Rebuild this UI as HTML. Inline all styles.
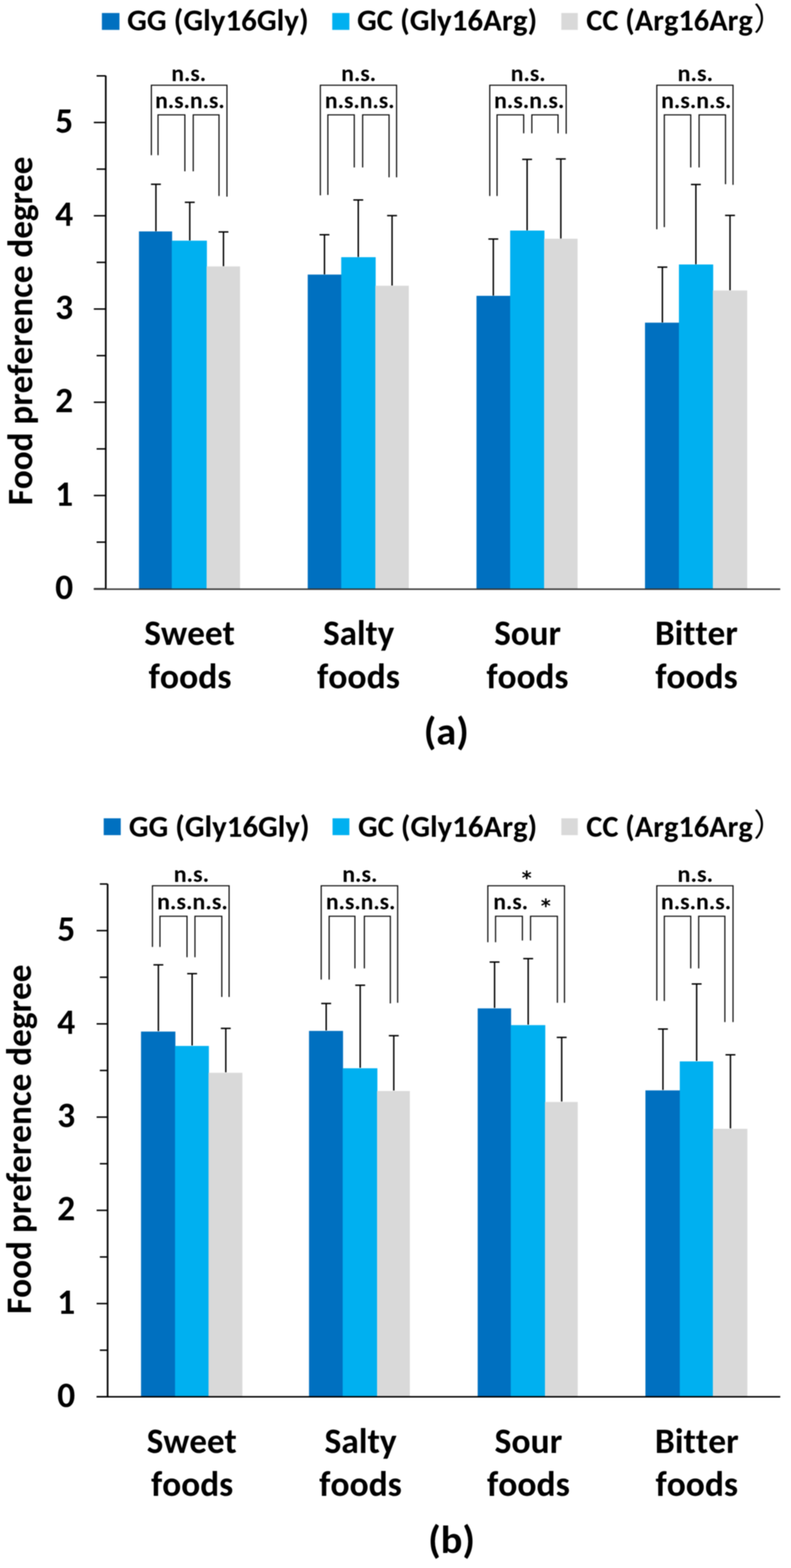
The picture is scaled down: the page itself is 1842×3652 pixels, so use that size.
<!DOCTYPE html>
<html><head><meta charset="utf-8"><title>Food preference degree</title>
<style>
html,body{margin:0;padding:0;background:#fff;}
body{width:1842px;height:3652px;}
svg{display:block;filter:blur(1px);}
text{font-family:Carlito, "Liberation Sans", Arial, sans-serif;fill:#000;font-variant-ligatures:none;font-feature-settings:"liga" 0,"clig" 0;font-kerning:none;font-size-adjust:0.4849;}
</style></head><body>
<svg width="1842" height="3652" viewBox="0 0 1842 3652">
<g>
<rect x="0" y="0" width="1842" height="3652" fill="#fff"/>
<rect x="237.3" y="30.3" width="40.90" height="39.30" fill="#0070C0"/>
<rect x="773.7" y="30.3" width="39.90" height="39.30" fill="#00B0F0"/>
<rect x="1307.2" y="30.3" width="38.30" height="39.30" fill="#D9D9D9"/>
<text x="296.10" y="71.30" font-size="70" font-weight="bold" textLength="422.61" lengthAdjust="spacingAndGlyphs">GG (Gly16Gly)</text>
<text x="831.40" y="71.30" font-size="70" font-weight="bold" textLength="419.60" lengthAdjust="spacingAndGlyphs">GC (Gly16Arg)</text>
<text x="1365.25" y="71.30" font-size="70" font-weight="bold" textLength="387.71" lengthAdjust="spacingAndGlyphs">CC (Arg16Arg</text>
<text x="1754.7" y="70.4" font-size="72.8" font-weight="normal" textLength="72.8" lengthAdjust="spacingAndGlyphs" style="font-family:'Noto Sans CJK JP','Noto Sans CJK SC',sans-serif;font-size-adjust:none">）</text>
<rect x="323.6" y="539.0" width="77.20" height="832.30" fill="#0070C0"/>
<rect x="400" y="560.5" width="81.80" height="810.80" fill="#00B0F0"/>
<rect x="481" y="620.5" width="78.00" height="750.80" fill="#D9D9D9"/>
<rect x="716.6" y="639.5" width="78.80" height="731.80" fill="#0070C0"/>
<rect x="794.6" y="599.0" width="80.20" height="772.30" fill="#00B0F0"/>
<rect x="874" y="665.5" width="78.00" height="705.80" fill="#D9D9D9"/>
<rect x="1109.6" y="689.0" width="79.20" height="682.30" fill="#0070C0"/>
<rect x="1188" y="537.0" width="79.80" height="834.30" fill="#00B0F0"/>
<rect x="1267" y="556.0" width="78.00" height="815.30" fill="#D9D9D9"/>
<rect x="1502" y="751.5" width="79.80" height="619.80" fill="#0070C0"/>
<rect x="1581" y="616.0" width="79.80" height="755.30" fill="#00B0F0"/>
<rect x="1660" y="676.5" width="80.00" height="694.80" fill="#D9D9D9"/>
<line x1="363.1" y1="429.2" x2="363.1" y2="538.5" stroke="#000" stroke-width="3.3" stroke-linecap="butt"/>
<line x1="351.6" y1="429.2" x2="374.6" y2="429.2" stroke="#000" stroke-width="3.3" stroke-linecap="butt"/>
<line x1="441.9" y1="471.2" x2="441.9" y2="560" stroke="#000" stroke-width="3.3" stroke-linecap="butt"/>
<line x1="430.4" y1="471.2" x2="453.4" y2="471.2" stroke="#000" stroke-width="3.3" stroke-linecap="butt"/>
<line x1="520.4" y1="540.2" x2="520.4" y2="620" stroke="#000" stroke-width="3.3" stroke-linecap="butt"/>
<line x1="508.9" y1="540.2" x2="531.9" y2="540.2" stroke="#000" stroke-width="3.3" stroke-linecap="butt"/>
<line x1="755.6" y1="546.7" x2="755.6" y2="639" stroke="#000" stroke-width="3.3" stroke-linecap="butt"/>
<line x1="744.1" y1="546.7" x2="767.1" y2="546.7" stroke="#000" stroke-width="3.3" stroke-linecap="butt"/>
<line x1="834.3" y1="465.7" x2="834.3" y2="598.5" stroke="#000" stroke-width="3.3" stroke-linecap="butt"/>
<line x1="822.8" y1="465.7" x2="845.8" y2="465.7" stroke="#000" stroke-width="3.3" stroke-linecap="butt"/>
<line x1="913.0" y1="502.2" x2="913.0" y2="665" stroke="#000" stroke-width="3.3" stroke-linecap="butt"/>
<line x1="901.5" y1="502.2" x2="924.5" y2="502.2" stroke="#000" stroke-width="3.3" stroke-linecap="butt"/>
<line x1="1148.8" y1="556.7" x2="1148.8" y2="688.5" stroke="#000" stroke-width="3.3" stroke-linecap="butt"/>
<line x1="1137.3" y1="556.7" x2="1160.3" y2="556.7" stroke="#000" stroke-width="3.3" stroke-linecap="butt"/>
<line x1="1227.5" y1="371.2" x2="1227.5" y2="536.5" stroke="#000" stroke-width="3.3" stroke-linecap="butt"/>
<line x1="1216.0" y1="371.2" x2="1239.0" y2="371.2" stroke="#000" stroke-width="3.3" stroke-linecap="butt"/>
<line x1="1306.0" y1="370.2" x2="1306.0" y2="555.5" stroke="#000" stroke-width="3.3" stroke-linecap="butt"/>
<line x1="1294.5" y1="370.2" x2="1317.5" y2="370.2" stroke="#000" stroke-width="3.3" stroke-linecap="butt"/>
<line x1="1542.5" y1="622.2" x2="1542.5" y2="751" stroke="#000" stroke-width="3.3" stroke-linecap="butt"/>
<line x1="1531.0" y1="622.2" x2="1554.0" y2="622.2" stroke="#000" stroke-width="3.3" stroke-linecap="butt"/>
<line x1="1620.5" y1="429.7" x2="1620.5" y2="615.5" stroke="#000" stroke-width="3.3" stroke-linecap="butt"/>
<line x1="1609.0" y1="429.7" x2="1632.0" y2="429.7" stroke="#000" stroke-width="3.3" stroke-linecap="butt"/>
<line x1="1700.0" y1="501.7" x2="1700.0" y2="676" stroke="#000" stroke-width="3.3" stroke-linecap="butt"/>
<line x1="1688.5" y1="501.7" x2="1711.5" y2="501.7" stroke="#000" stroke-width="3.3" stroke-linecap="butt"/>
<polyline points="352.5,361.5 352.5,198.5 528.5,198.5 528.5,458.0" fill="none" stroke="#0a0a0a" stroke-width="2.7" stroke-linejoin="miter"/>
<polyline points="368,361.5 368,267.5 430.5,267.5 430.5,399.0" fill="none" stroke="#0a0a0a" stroke-width="2.7" stroke-linejoin="miter"/>
<polyline points="450,399.0 450,267.5 510,267.5 510,456.5" fill="none" stroke="#0a0a0a" stroke-width="2.7" stroke-linejoin="miter"/>
<polyline points="746,455.0 746,198.5 923.5,198.5 923.5,413.0" fill="none" stroke="#0a0a0a" stroke-width="2.7" stroke-linejoin="miter"/>
<polyline points="763.5,454.0 763.5,267.5 825,267.5 825,390.0" fill="none" stroke="#0a0a0a" stroke-width="2.7" stroke-linejoin="miter"/>
<polyline points="844.5,390.0 844.5,267.5 906,267.5 906,413.0" fill="none" stroke="#0a0a0a" stroke-width="2.7" stroke-linejoin="miter"/>
<polyline points="1140.5,456.5 1140.5,198.5 1318.5,198.5 1318.5,311.5" fill="none" stroke="#0a0a0a" stroke-width="2.7" stroke-linejoin="miter"/>
<polyline points="1157.5,456.5 1157.5,267.5 1219.5,267.5 1219.5,310.5" fill="none" stroke="#0a0a0a" stroke-width="2.7" stroke-linejoin="miter"/>
<polyline points="1238.5,310.5 1238.5,267.5 1299.5,267.5 1299.5,310.5" fill="none" stroke="#0a0a0a" stroke-width="2.7" stroke-linejoin="miter"/>
<polyline points="1529.5,534.0 1529.5,198.5 1707,198.5 1707,430.5" fill="none" stroke="#0a0a0a" stroke-width="2.7" stroke-linejoin="miter"/>
<polyline points="1547,529.0 1547,267.5 1608.5,267.5 1608.5,390.0" fill="none" stroke="#0a0a0a" stroke-width="2.7" stroke-linejoin="miter"/>
<polyline points="1628,390.0 1628,267.5 1689.5,267.5 1689.5,429.0" fill="none" stroke="#0a0a0a" stroke-width="2.7" stroke-linejoin="miter"/>
<line x1="246.3" y1="176.3" x2="246.3" y2="1372.8" stroke="#000" stroke-width="3.9" stroke-linecap="butt"/>
<line x1="218.5" y1="1371.3" x2="246.3" y2="1371.3" stroke="#000" stroke-width="3.4" stroke-linecap="butt"/>
<line x1="225" y1="1262.7" x2="246.3" y2="1262.7" stroke="#000" stroke-width="3.4" stroke-linecap="butt"/>
<line x1="218.5" y1="1154.1" x2="246.3" y2="1154.1" stroke="#000" stroke-width="3.4" stroke-linecap="butt"/>
<line x1="225" y1="1045.5" x2="246.3" y2="1045.5" stroke="#000" stroke-width="3.4" stroke-linecap="butt"/>
<line x1="218.5" y1="936.9" x2="246.3" y2="936.9" stroke="#000" stroke-width="3.4" stroke-linecap="butt"/>
<line x1="225" y1="828.3" x2="246.3" y2="828.3" stroke="#000" stroke-width="3.4" stroke-linecap="butt"/>
<line x1="218.5" y1="719.7" x2="246.3" y2="719.7" stroke="#000" stroke-width="3.4" stroke-linecap="butt"/>
<line x1="225" y1="611.1" x2="246.3" y2="611.1" stroke="#000" stroke-width="3.4" stroke-linecap="butt"/>
<line x1="218.5" y1="502.5" x2="246.3" y2="502.5" stroke="#000" stroke-width="3.4" stroke-linecap="butt"/>
<line x1="225" y1="393.9" x2="246.3" y2="393.9" stroke="#000" stroke-width="3.4" stroke-linecap="butt"/>
<line x1="218.5" y1="285.3" x2="246.3" y2="285.3" stroke="#000" stroke-width="3.4" stroke-linecap="butt"/>
<line x1="225" y1="176.7" x2="246.3" y2="176.7" stroke="#000" stroke-width="3.4" stroke-linecap="butt"/>
<line x1="218.5" y1="1372.2" x2="1817" y2="1372.2" stroke="#383838" stroke-width="3.6" stroke-linecap="butt"/>
<text x="128.59" y="1394.80" font-size="82.5" font-weight="bold" textLength="41.81" lengthAdjust="spacingAndGlyphs">0</text>
<text x="128.59" y="1177.60" font-size="82.5" font-weight="bold" textLength="41.81" lengthAdjust="spacingAndGlyphs">1</text>
<text x="128.59" y="960.40" font-size="82.5" font-weight="bold" textLength="41.81" lengthAdjust="spacingAndGlyphs">2</text>
<text x="128.59" y="743.20" font-size="82.5" font-weight="bold" textLength="41.81" lengthAdjust="spacingAndGlyphs">3</text>
<text x="128.59" y="526.00" font-size="82.5" font-weight="bold" textLength="41.81" lengthAdjust="spacingAndGlyphs">4</text>
<text x="128.59" y="308.80" font-size="82.5" font-weight="bold" textLength="41.81" lengthAdjust="spacingAndGlyphs">5</text>
<text x="336.08" y="1502.00" font-size="82.5" font-weight="bold" textLength="210.92" lengthAdjust="spacingAndGlyphs">Sweet</text>
<text x="345.99" y="1602.60" font-size="82.5" font-weight="bold" textLength="193.22" lengthAdjust="spacingAndGlyphs">foods</text>
<text x="752.49" y="1502.00" font-size="82.5" font-weight="bold" textLength="165.71" lengthAdjust="spacingAndGlyphs">Salty</text>
<text x="738.19" y="1602.60" font-size="82.5" font-weight="bold" textLength="193.12" lengthAdjust="spacingAndGlyphs">foods</text>
<text x="1150.88" y="1502.00" font-size="82.5" font-weight="bold" textLength="155.41" lengthAdjust="spacingAndGlyphs">Sour</text>
<text x="1132.80" y="1602.60" font-size="82.5" font-weight="bold" textLength="191.09" lengthAdjust="spacingAndGlyphs">foods</text>
<text x="1525.14" y="1502.00" font-size="82.5" font-weight="bold" textLength="193.06" lengthAdjust="spacingAndGlyphs">Bitter</text>
<text x="1525.99" y="1602.60" font-size="82.5" font-weight="bold" textLength="192.00" lengthAdjust="spacingAndGlyphs">foods</text>
<text x="399.07" y="189.00" font-size="55" font-weight="bold" textLength="80.88" lengthAdjust="spacingAndGlyphs">n.s.</text>
<text x="361.26" y="252.30" font-size="55" font-weight="bold" textLength="162.10" lengthAdjust="spacingAndGlyphs">n.s.n.s.</text>
<text x="794.55" y="189.00" font-size="55" font-weight="bold" textLength="81.32" lengthAdjust="spacingAndGlyphs">n.s.</text>
<text x="756.56" y="252.30" font-size="55" font-weight="bold" textLength="162.31" lengthAdjust="spacingAndGlyphs">n.s.n.s.</text>
<text x="1189.25" y="189.00" font-size="55" font-weight="bold" textLength="81.32" lengthAdjust="spacingAndGlyphs">n.s.</text>
<text x="1150.43" y="252.30" font-size="55" font-weight="bold" textLength="163.76" lengthAdjust="spacingAndGlyphs">n.s.n.s.</text>
<text x="1577.89" y="189.00" font-size="55" font-weight="bold" textLength="82.73" lengthAdjust="spacingAndGlyphs">n.s.</text>
<text x="1539.43" y="252.30" font-size="55" font-weight="bold" textLength="163.66" lengthAdjust="spacingAndGlyphs">n.s.n.s.</text>
<text x="986.71" y="1734.00" font-size="92" font-weight="bold" textLength="104.98" lengthAdjust="spacingAndGlyphs">(a)</text>
<rect x="241.5" y="1905.9" width="39.70" height="39.20" fill="#0070C0"/>
<rect x="774.4" y="1905.9" width="39.20" height="39.20" fill="#00B0F0"/>
<rect x="1307.2" y="1905.9" width="38.30" height="39.20" fill="#D9D9D9"/>
<text x="300.10" y="1948.60" font-size="70" font-weight="bold" textLength="420.89" lengthAdjust="spacingAndGlyphs">GG (Gly16Gly)</text>
<text x="833.71" y="1948.60" font-size="70" font-weight="bold" textLength="417.26" lengthAdjust="spacingAndGlyphs">GC (Gly16Arg)</text>
<text x="1365.25" y="1948.60" font-size="70" font-weight="bold" textLength="387.71" lengthAdjust="spacingAndGlyphs">CC (Arg16Arg</text>
<text x="1754.7" y="1947.3" font-size="72.8" font-weight="normal" textLength="72.8" lengthAdjust="spacingAndGlyphs" style="font-family:'Noto Sans CJK JP','Noto Sans CJK SC',sans-serif;font-size-adjust:none">）</text>
<rect x="328.4" y="2402.6" width="80.00" height="850.70" fill="#0070C0"/>
<rect x="407.6" y="2436.1" width="78.80" height="817.20" fill="#00B0F0"/>
<rect x="485.6" y="2498.6" width="78.80" height="754.70" fill="#D9D9D9"/>
<rect x="719.6" y="2401.1" width="79.20" height="852.20" fill="#0070C0"/>
<rect x="798" y="2488.1" width="80.80" height="765.20" fill="#00B0F0"/>
<rect x="878" y="2541.1" width="76.40" height="712.20" fill="#D9D9D9"/>
<rect x="1112.4" y="2348.6" width="77.80" height="904.70" fill="#0070C0"/>
<rect x="1189.4" y="2387.6" width="80.40" height="865.70" fill="#00B0F0"/>
<rect x="1269" y="2566.6" width="76.40" height="686.70" fill="#D9D9D9"/>
<rect x="1503" y="2539.6" width="80.80" height="713.70" fill="#0070C0"/>
<rect x="1583" y="2472.1" width="77.80" height="781.20" fill="#00B0F0"/>
<rect x="1660" y="2629.1" width="80.40" height="624.20" fill="#D9D9D9"/>
<line x1="368.8" y1="2247.2" x2="368.8" y2="2401.5" stroke="#000" stroke-width="3.3" stroke-linecap="butt"/>
<line x1="357.3" y1="2247.2" x2="380.3" y2="2247.2" stroke="#000" stroke-width="3.3" stroke-linecap="butt"/>
<line x1="447.4" y1="2267.7" x2="447.4" y2="2435" stroke="#000" stroke-width="3.3" stroke-linecap="butt"/>
<line x1="435.9" y1="2267.7" x2="458.9" y2="2267.7" stroke="#000" stroke-width="3.3" stroke-linecap="butt"/>
<line x1="525.8" y1="2395.2" x2="525.8" y2="2497.5" stroke="#000" stroke-width="3.3" stroke-linecap="butt"/>
<line x1="514.3" y1="2395.2" x2="537.3" y2="2395.2" stroke="#000" stroke-width="3.3" stroke-linecap="butt"/>
<line x1="759.6" y1="2337.2" x2="759.6" y2="2400" stroke="#000" stroke-width="3.3" stroke-linecap="butt"/>
<line x1="748.1" y1="2337.2" x2="771.1" y2="2337.2" stroke="#000" stroke-width="3.3" stroke-linecap="butt"/>
<line x1="838.8" y1="2294.7" x2="838.8" y2="2487" stroke="#000" stroke-width="3.3" stroke-linecap="butt"/>
<line x1="827.3" y1="2294.7" x2="850.3" y2="2294.7" stroke="#000" stroke-width="3.3" stroke-linecap="butt"/>
<line x1="917.0" y1="2412.2" x2="917.0" y2="2540" stroke="#000" stroke-width="3.3" stroke-linecap="butt"/>
<line x1="905.5" y1="2412.2" x2="928.5" y2="2412.2" stroke="#000" stroke-width="3.3" stroke-linecap="butt"/>
<line x1="1151.7" y1="2240.7" x2="1151.7" y2="2347.5" stroke="#000" stroke-width="3.3" stroke-linecap="butt"/>
<line x1="1140.2" y1="2240.7" x2="1163.2" y2="2240.7" stroke="#000" stroke-width="3.3" stroke-linecap="butt"/>
<line x1="1230.0" y1="2232.7" x2="1230.0" y2="2386.5" stroke="#000" stroke-width="3.3" stroke-linecap="butt"/>
<line x1="1218.5" y1="2232.7" x2="1241.5" y2="2232.7" stroke="#000" stroke-width="3.3" stroke-linecap="butt"/>
<line x1="1308.0" y1="2416.2" x2="1308.0" y2="2565.5" stroke="#000" stroke-width="3.3" stroke-linecap="butt"/>
<line x1="1296.5" y1="2416.2" x2="1319.5" y2="2416.2" stroke="#000" stroke-width="3.3" stroke-linecap="butt"/>
<line x1="1543.8" y1="2396.7" x2="1543.8" y2="2538.5" stroke="#000" stroke-width="3.3" stroke-linecap="butt"/>
<line x1="1532.3" y1="2396.7" x2="1555.3" y2="2396.7" stroke="#000" stroke-width="3.3" stroke-linecap="butt"/>
<line x1="1622.3" y1="2291.7" x2="1622.3" y2="2471" stroke="#000" stroke-width="3.3" stroke-linecap="butt"/>
<line x1="1610.8" y1="2291.7" x2="1633.8" y2="2291.7" stroke="#000" stroke-width="3.3" stroke-linecap="butt"/>
<line x1="1701.0" y1="2456.7" x2="1701.0" y2="2628" stroke="#000" stroke-width="3.3" stroke-linecap="butt"/>
<line x1="1689.5" y1="2456.7" x2="1712.5" y2="2456.7" stroke="#000" stroke-width="3.3" stroke-linecap="butt"/>
<polyline points="355,2205.5 355,2063 533.5,2063 533.5,2322.0" fill="none" stroke="#0a0a0a" stroke-width="2.7" stroke-linejoin="miter"/>
<polyline points="372.5,2205.5 372.5,2134 435.5,2134 435.5,2229.5" fill="none" stroke="#0a0a0a" stroke-width="2.7" stroke-linejoin="miter"/>
<polyline points="454,2229.5 454,2134 516.5,2134 516.5,2322.0" fill="none" stroke="#0a0a0a" stroke-width="2.7" stroke-linejoin="miter"/>
<polyline points="748,2281.5 748,2063 926,2063 926,2335.5" fill="none" stroke="#0a0a0a" stroke-width="2.7" stroke-linejoin="miter"/>
<polyline points="766.5,2281.5 766.5,2134 826.5,2134 826.5,2255.5" fill="none" stroke="#0a0a0a" stroke-width="2.7" stroke-linejoin="miter"/>
<polyline points="848.5,2255.5 848.5,2134 909,2134 909,2337.0" fill="none" stroke="#0a0a0a" stroke-width="2.7" stroke-linejoin="miter"/>
<polyline points="1136,2194.5 1136,2063 1314.5,2063 1314.5,2335.5" fill="none" stroke="#0a0a0a" stroke-width="2.7" stroke-linejoin="miter"/>
<polyline points="1154,2194.5 1154,2134 1216.5,2134 1216.5,2190.5" fill="none" stroke="#0a0a0a" stroke-width="2.7" stroke-linejoin="miter"/>
<polyline points="1235.5,2190.5 1235.5,2134 1298,2134 1298,2335.5" fill="none" stroke="#0a0a0a" stroke-width="2.7" stroke-linejoin="miter"/>
<polyline points="1529.5,2330.5 1529.5,2063 1707,2063 1707,2380.5" fill="none" stroke="#0a0a0a" stroke-width="2.7" stroke-linejoin="miter"/>
<polyline points="1547,2331.5 1547,2134 1608.5,2134 1608.5,2255.5" fill="none" stroke="#0a0a0a" stroke-width="2.7" stroke-linejoin="miter"/>
<polyline points="1627,2255.5 1627,2134 1688,2134 1688,2380.5" fill="none" stroke="#0a0a0a" stroke-width="2.7" stroke-linejoin="miter"/>
<line x1="250.6" y1="2058.7" x2="250.6" y2="3254.8" stroke="#000" stroke-width="3.9" stroke-linecap="butt"/>
<line x1="225" y1="3253.3" x2="250.6" y2="3253.3" stroke="#000" stroke-width="3.4" stroke-linecap="butt"/>
<line x1="232.5" y1="3144.72" x2="250.6" y2="3144.72" stroke="#000" stroke-width="3.4" stroke-linecap="butt"/>
<line x1="225" y1="3036.14" x2="250.6" y2="3036.14" stroke="#000" stroke-width="3.4" stroke-linecap="butt"/>
<line x1="232.5" y1="2927.56" x2="250.6" y2="2927.56" stroke="#000" stroke-width="3.4" stroke-linecap="butt"/>
<line x1="225" y1="2818.98" x2="250.6" y2="2818.98" stroke="#000" stroke-width="3.4" stroke-linecap="butt"/>
<line x1="232.5" y1="2710.4" x2="250.6" y2="2710.4" stroke="#000" stroke-width="3.4" stroke-linecap="butt"/>
<line x1="225" y1="2601.82" x2="250.6" y2="2601.82" stroke="#000" stroke-width="3.4" stroke-linecap="butt"/>
<line x1="232.5" y1="2493.24" x2="250.6" y2="2493.24" stroke="#000" stroke-width="3.4" stroke-linecap="butt"/>
<line x1="225" y1="2384.66" x2="250.6" y2="2384.66" stroke="#000" stroke-width="3.4" stroke-linecap="butt"/>
<line x1="232.5" y1="2276.08" x2="250.6" y2="2276.08" stroke="#000" stroke-width="3.4" stroke-linecap="butt"/>
<line x1="225" y1="2167.5" x2="250.6" y2="2167.5" stroke="#000" stroke-width="3.4" stroke-linecap="butt"/>
<line x1="232.5" y1="2058.92" x2="250.6" y2="2058.92" stroke="#000" stroke-width="3.4" stroke-linecap="butt"/>
<line x1="224.8" y1="3253.3" x2="1817" y2="3253.3" stroke="#000" stroke-width="3.6" stroke-linecap="butt"/>
<text x="133.19" y="3276.80" font-size="82.5" font-weight="bold" textLength="41.81" lengthAdjust="spacingAndGlyphs">0</text>
<text x="133.19" y="3059.64" font-size="82.5" font-weight="bold" textLength="41.81" lengthAdjust="spacingAndGlyphs">1</text>
<text x="133.19" y="2842.48" font-size="82.5" font-weight="bold" textLength="41.81" lengthAdjust="spacingAndGlyphs">2</text>
<text x="133.19" y="2625.32" font-size="82.5" font-weight="bold" textLength="41.81" lengthAdjust="spacingAndGlyphs">3</text>
<text x="133.19" y="2408.16" font-size="82.5" font-weight="bold" textLength="41.81" lengthAdjust="spacingAndGlyphs">4</text>
<text x="133.19" y="2191.00" font-size="82.5" font-weight="bold" textLength="41.81" lengthAdjust="spacingAndGlyphs">5</text>
<text x="341.79" y="3384.40" font-size="82.5" font-weight="bold" textLength="209.51" lengthAdjust="spacingAndGlyphs">Sweet</text>
<text x="351.80" y="3484.20" font-size="82.5" font-weight="bold" textLength="191.39" lengthAdjust="spacingAndGlyphs">foods</text>
<text x="755.66" y="3384.40" font-size="82.5" font-weight="bold" textLength="168.14" lengthAdjust="spacingAndGlyphs">Salty</text>
<text x="743.29" y="3484.20" font-size="82.5" font-weight="bold" textLength="192.61" lengthAdjust="spacingAndGlyphs">foods</text>
<text x="1151.86" y="3384.40" font-size="82.5" font-weight="bold" textLength="157.55" lengthAdjust="spacingAndGlyphs">Sour</text>
<text x="1133.89" y="3484.20" font-size="82.5" font-weight="bold" textLength="193.12" lengthAdjust="spacingAndGlyphs">foods</text>
<text x="1525.09" y="3384.40" font-size="82.5" font-weight="bold" textLength="195.12" lengthAdjust="spacingAndGlyphs">Bitter</text>
<text x="1526.59" y="3484.20" font-size="82.5" font-weight="bold" textLength="192.00" lengthAdjust="spacingAndGlyphs">foods</text>
<text x="404.51" y="2054.00" font-size="55" font-weight="bold" textLength="82.41" lengthAdjust="spacingAndGlyphs">n.s.</text>
<text x="365.71" y="2117.80" font-size="55" font-weight="bold" textLength="164.81" lengthAdjust="spacingAndGlyphs">n.s.n.s.</text>
<text x="796.93" y="2054.00" font-size="55" font-weight="bold" textLength="81.86" lengthAdjust="spacingAndGlyphs">n.s.</text>
<text x="758.97" y="2117.80" font-size="55" font-weight="bold" textLength="161.78" lengthAdjust="spacingAndGlyphs">n.s.n.s.</text>
<text x="1215.09" y="2059.84" font-size="44" font-weight="bold" style="font-family:'DejaVu Sans','Liberation Sans',sans-serif;font-size-adjust:none" textLength="23.01" lengthAdjust="spacingAndGlyphs">*</text>
<text x="1259.39" y="2125.24" font-size="44" font-weight="bold" style="font-family:'DejaVu Sans','Liberation Sans',sans-serif;font-size-adjust:none" textLength="23.01" lengthAdjust="spacingAndGlyphs">*</text>
<text x="1148.84" y="2117.80" font-size="55" font-weight="bold" textLength="80.83" lengthAdjust="spacingAndGlyphs">n.s.</text>
<text x="1577.58" y="2054.00" font-size="55" font-weight="bold" textLength="83.06" lengthAdjust="spacingAndGlyphs">n.s.</text>
<text x="1539.13" y="2117.80" font-size="55" font-weight="bold" textLength="163.45" lengthAdjust="spacingAndGlyphs">n.s.n.s.</text>
<text x="997.00" y="3616.50" font-size="92" font-weight="bold" textLength="109.19" lengthAdjust="spacingAndGlyphs">(b)</text>
<text transform="translate(75.2,1176.65) rotate(-90)" x="0" y="0" font-size="82" font-weight="bold" textLength="811.82" lengthAdjust="spacingAndGlyphs">Food preference degree</text>
<text transform="translate(72.3,3060.26) rotate(-90)" x="0" y="0" font-size="82" font-weight="bold" textLength="813.74" lengthAdjust="spacingAndGlyphs">Food preference degree</text>
</g>
</svg>
</body></html>
